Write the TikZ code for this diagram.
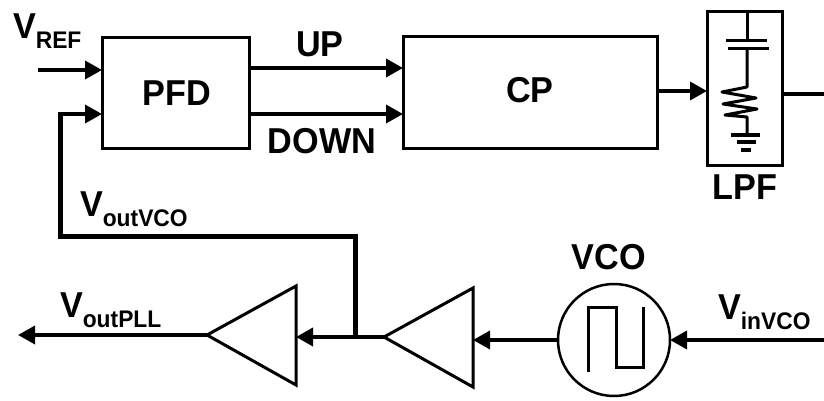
\documentclass[tikz,border=0pt]{standalone}
\usepackage{fontspec}
\setmainfont[FakeStretch=0.95]{Liberation Sans}
\usetikzlibrary{arrows.meta}
\newcommand{\volt}[1]{\fontsize{36}{36}\selectfont V\raisebox{-10pt}{\fontsize{24}{24}\selectfont #1}}
\tikzset{
  blockbox/.style={draw=black,line width=3pt,inner sep=0pt,outer sep=0pt},
  lab/.style={inner sep=0pt,outer sep=0pt,font=\bfseries\fontsize{36}{36}\selectfont},
  voltlab/.style={inner sep=0pt,outer sep=0pt,anchor=base west,font=\bfseries},
  sig/.style={line width=3.5pt,-{Triangle[length=17pt,width=18pt]}},
  wire/.style={line width=3.5pt},
  fb/.style={line width=5pt},
  amp/.style={draw=black,line width=3pt,line join=miter},
  cwire/.style={line width=3pt},
}
\begin{document}
\begin{tikzpicture}[x=1pt,y=-1pt]
\useasboundingbox (0,0) rectangle (824,401);
% blocks
\node[blockbox,minimum width=147pt,minimum height=110pt] (pfd) at (175.5,93) {};
\node[lab] (pfdt) at (177,93) {PFD};
\node[blockbox,minimum width=254pt,minimum height=111pt] (cp) at (530,92.5) {};
\node[lab] (cpt) at (530,90) {CP};
\node[blockbox,minimum width=75pt,minimum height=153pt] (lpf) at (744.5,88.5) {};
\node[lab] (lpft) at (745,187) {LPF};
\node[draw=black,circle,line width=2.5pt,minimum size=112pt,inner sep=0pt,outer sep=0pt] (vco) at (614,340) {};
\node[lab] (vcot) at (609,257) {VCO};
\node[lab] (up) at (320,44) {UP};
\node[lab] (down) at (322,141) {DOWN};
% voltage labels
\node[voltlab] (vref) at (13,39) {\volt{REF}};
\node[voltlab] (vovco) at (80,216) {\volt{outVCO}};
\node[voltlab] (vopll) at (60,317) {\volt{outPLL}};
\node[voltlab] (vivco) at (718,319) {\volt{inVCO}};
% buffers
\coordinate (a1) at (207,335);
\coordinate (a1r) at (296,337);
\coordinate (a2) at (384,337);
\coordinate (a2r) at (473,340);
\draw[amp] (207,335) -- (296,286) -- (296,385) -- cycle;
\draw[amp] (a2) -- (473,288) -- (473,387) -- cycle;
% free ends and junctions
\coordinate (refin) at (38,70);
\coordinate (pfdin1) at (102,70);
\coordinate (pfdin2) at (102,114);
\coordinate (pfdu) at (249,68);
\coordinate (cpu) at (403,68);
\coordinate (pfdd) at (249,114);
\coordinate (cpd) at (403,114);
\coordinate (cpo) at (657,91);
\coordinate (lpfi) at (707,91);
\coordinate (lpfo) at (782,94);
\coordinate (rout) at (824,94);
\coordinate (vin) at (824,340);
\coordinate (pllout) at (18,335);
\coordinate (j) at (355,337);
\coordinate (fb1) at (60,114);
\coordinate (fb2) at (60,236);
\coordinate (fb3) at (355,236);
% connectors
\draw[sig] (refin) -- (pfdin1);
\draw[sig] (pfdu) -- (cpu);
\draw[sig] (pfdd) -- (cpd);
\draw[sig] (cpo) -- (lpfi);
\draw[wire] (lpfo) -- (rout);
\draw[fb,line join=miter] (j) -- (fb3) -- (fb2) -- (fb1);
\draw[sig] (fb1) ++(-2.5,0) -- (pfdin2);
\draw[sig] (vin) -- (vco.east);
\draw[sig] (vco.west) -- (a2r);
\draw[sig] (a2) -- (a1r);
\draw[sig] (a1) -- (pllout);
% square wave
\draw[line width=3pt,line join=miter] (588,372) -- (588,307) -- (616,307) -- (616,367) -- (643,367) -- (643,307);
% LPF internals
\draw[cwire] (747,12) -- (747,41);
\draw[cwire] (726,41) -- (767,41);
\draw[cwire] (728,49) -- (769,49);
\draw[cwire,line join=round] (747,49) -- (747,87) -- (722,92) -- (756,98) -- (723,104) -- (757,109) -- (725,115) -- (747,117) -- (747,135);
\draw[line width=3.5pt] (731,135) -- (760,135);
\draw[line width=3.5pt] (737,142) -- (756,142);
\draw[line width=3.5pt] (741,150) -- (751,150);
\end{tikzpicture}
\end{document}
